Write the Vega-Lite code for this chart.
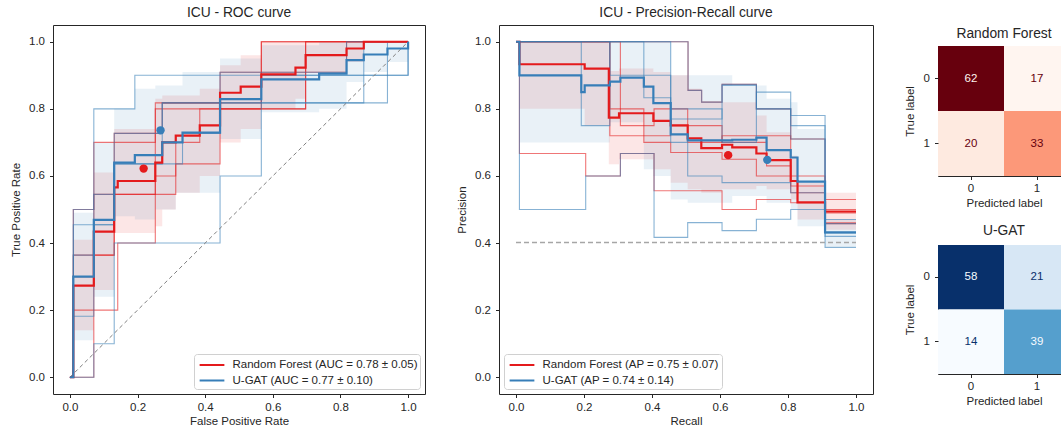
{
  "$schema": "https://vega.github.io/schema/vega-lite/v6.json",
  "padding": {"left": 9, "top": 5, "right": 0, "bottom": 0},
  "spacing": 29,
  "config": {
    "font": "Liberation Sans",
    "view": {"stroke": "#262626", "strokeWidth": 1},
    "axis": {"labelFontSize": 11.5, "titleFontSize": 11.5, "titleFontWeight": "normal", "labelColor": "#262626", "titleColor": "#262626", "tickColor": "#262626", "domain": false, "grid": false, "tickSize": 3.5, "labelPadding": 3.5, "titlePadding": 3},
    "axisY": {"labelPadding": 5, "titlePadding": 7.5},
    "title": {"fontSize": 13.8, "fontWeight": "normal", "color": "#262626", "offset": 5, "anchor": "middle", "frame": "group"},
    "legend": {"labelFontSize": 11.5, "labelColor": "#262626", "strokeColor": "#d0d0d0", "fillColor": "rgba(255,255,255,0.85)", "cornerRadius": 3, "padding": 2.5, "symbolType": "M-1.65,0H1.65", "symbolStrokeWidth": 2, "symbolSize": 225, "symbolOffset": 7, "labelLimit": 400, "rowPadding": 1.5, "labelOffset": 12, "offset": 5}
  },
  "datasets": {
    "rocMean": [
      {"model": "Random Forest", "x": 0, "y": 0}, {"model": "Random Forest", "x": 0.0101, "y": 0.273}, {"model": "Random Forest", "x": 0.0707, "y": 0.434}, {"model": "Random Forest", "x": 0.131, "y": 0.566}, {"model": "Random Forest", "x": 0.1414, "y": 0.585}, {"model": "Random Forest", "x": 0.2525, "y": 0.64}, {"model": "Random Forest", "x": 0.273, "y": 0.70}, {"model": "Random Forest", "x": 0.313, "y": 0.72}, {"model": "Random Forest", "x": 0.384, "y": 0.751}, {"model": "Random Forest", "x": 0.444, "y": 0.848}, {"model": "Random Forest", "x": 0.505, "y": 0.866}, {"model": "Random Forest", "x": 0.566, "y": 0.903}, {"model": "Random Forest", "x": 0.667, "y": 0.923}, {"model": "Random Forest", "x": 0.697, "y": 0.96}, {"model": "Random Forest", "x": 0.818, "y": 0.98}, {"model": "Random Forest", "x": 0.869, "y": 1.0}, {"model": "Random Forest", "x": 1.0, "y": 1.0},
      {"model": "U-GAT", "x": 0, "y": 0}, {"model": "U-GAT", "x": 0.0101, "y": 0.30}, {"model": "U-GAT", "x": 0.0707, "y": 0.469}, {"model": "U-GAT", "x": 0.131, "y": 0.64}, {"model": "U-GAT", "x": 0.192, "y": 0.662}, {"model": "U-GAT", "x": 0.273, "y": 0.70}, {"model": "U-GAT", "x": 0.333, "y": 0.729}, {"model": "U-GAT", "x": 0.444, "y": 0.829}, {"model": "U-GAT", "x": 0.566, "y": 0.888}, {"model": "U-GAT", "x": 0.737, "y": 0.905}, {"model": "U-GAT", "x": 0.818, "y": 0.945}, {"model": "U-GAT", "x": 0.869, "y": 0.962}, {"model": "U-GAT", "x": 0.939, "y": 0.98}, {"model": "U-GAT", "x": 1.0, "y": 1.0}
    ],
    "rocBand": [
      {"model": "Random Forest", "x": 0, "lo": 0, "hi": 0}, {"model": "Random Forest", "x": 0.0101, "lo": 0.14, "hi": 0.41}, {"model": "Random Forest", "x": 0.0707, "lo": 0.26, "hi": 0.61}, {"model": "Random Forest", "x": 0.131, "lo": 0.43, "hi": 0.74}, {"model": "Random Forest", "x": 0.2525, "lo": 0.45, "hi": 0.83}, {"model": "Random Forest", "x": 0.273, "lo": 0.5, "hi": 0.84}, {"model": "Random Forest", "x": 0.313, "lo": 0.55, "hi": 0.84}, {"model": "Random Forest", "x": 0.384, "lo": 0.6, "hi": 0.86}, {"model": "Random Forest", "x": 0.444, "lo": 0.7, "hi": 0.93}, {"model": "Random Forest", "x": 0.505, "lo": 0.74, "hi": 0.96}, {"model": "Random Forest", "x": 0.566, "lo": 0.8, "hi": 1.0}, {"model": "Random Forest", "x": 0.667, "lo": 0.83, "hi": 1.0}, {"model": "Random Forest", "x": 0.697, "lo": 0.91, "hi": 1.0}, {"model": "Random Forest", "x": 0.818, "lo": 0.94, "hi": 1.0}, {"model": "Random Forest", "x": 0.869, "lo": 1.0, "hi": 1.0}, {"model": "Random Forest", "x": 1.0, "lo": 1.0, "hi": 1.0},
      {"model": "U-GAT", "x": 0, "lo": 0, "hi": 0}, {"model": "U-GAT", "x": 0.0101, "lo": 0.11, "hi": 0.49}, {"model": "U-GAT", "x": 0.0707, "lo": 0.24, "hi": 0.70}, {"model": "U-GAT", "x": 0.131, "lo": 0.48, "hi": 0.80}, {"model": "U-GAT", "x": 0.192, "lo": 0.47, "hi": 0.86}, {"model": "U-GAT", "x": 0.2525, "lo": 0.5, "hi": 0.87}, {"model": "U-GAT", "x": 0.313, "lo": 0.55, "hi": 0.87}, {"model": "U-GAT", "x": 0.333, "lo": 0.55, "hi": 0.91}, {"model": "U-GAT", "x": 0.444, "lo": 0.71, "hi": 0.95}, {"model": "U-GAT", "x": 0.566, "lo": 0.79, "hi": 0.99}, {"model": "U-GAT", "x": 0.737, "lo": 0.8, "hi": 1.0}, {"model": "U-GAT", "x": 0.818, "lo": 0.88, "hi": 1.0}, {"model": "U-GAT", "x": 0.869, "lo": 0.91, "hi": 1.0}, {"model": "U-GAT", "x": 0.939, "lo": 0.94, "hi": 1.0}, {"model": "U-GAT", "x": 1.0, "lo": 1.0, "hi": 1.0}
    ],
    "rocFold": [
      {"model": "Random Forest", "fold": 1, "x": 0, "y": 0}, {"model": "Random Forest", "fold": 1, "x": 0.0101, "y": 0.5}, {"model": "Random Forest", "fold": 1, "x": 0.0707, "y": 0.545}, {"model": "Random Forest", "fold": 1, "x": 0.131, "y": 0.727}, {"model": "Random Forest", "fold": 1, "x": 0.273, "y": 0.818}, {"model": "Random Forest", "fold": 1, "x": 0.444, "y": 0.909}, {"model": "Random Forest", "fold": 1, "x": 0.818, "y": 1.0}, {"model": "Random Forest", "fold": 1, "x": 1.0, "y": 1.0},
      {"model": "Random Forest", "fold": 2, "x": 0, "y": 0}, {"model": "Random Forest", "fold": 2, "x": 0.0101, "y": 0.3}, {"model": "Random Forest", "fold": 2, "x": 0.0707, "y": 0.7}, {"model": "Random Forest", "fold": 2, "x": 0.2525, "y": 0.8}, {"model": "Random Forest", "fold": 2, "x": 0.566, "y": 1.0}, {"model": "Random Forest", "fold": 2, "x": 1.0, "y": 1.0},
      {"model": "Random Forest", "fold": 3, "x": 0, "y": 0}, {"model": "Random Forest", "fold": 3, "x": 0.0101, "y": 0.2}, {"model": "Random Forest", "fold": 3, "x": 0.1414, "y": 0.4}, {"model": "Random Forest", "fold": 3, "x": 0.2525, "y": 0.6}, {"model": "Random Forest", "fold": 3, "x": 0.313, "y": 0.7}, {"model": "Random Forest", "fold": 3, "x": 0.384, "y": 0.8}, {"model": "Random Forest", "fold": 3, "x": 0.697, "y": 1.0}, {"model": "Random Forest", "fold": 3, "x": 1.0, "y": 1.0},
      {"model": "Random Forest", "fold": 4, "x": 0, "y": 0}, {"model": "Random Forest", "fold": 4, "x": 0.0101, "y": 0.364}, {"model": "Random Forest", "fold": 4, "x": 0.131, "y": 0.545}, {"model": "Random Forest", "fold": 4, "x": 0.2525, "y": 0.818}, {"model": "Random Forest", "fold": 4, "x": 0.566, "y": 1.0}, {"model": "Random Forest", "fold": 4, "x": 1.0, "y": 1.0},
      {"model": "Random Forest", "fold": 5, "x": 0, "y": 0}, {"model": "Random Forest", "fold": 5, "x": 0.0707, "y": 0.364}, {"model": "Random Forest", "fold": 5, "x": 0.131, "y": 0.545}, {"model": "Random Forest", "fold": 5, "x": 0.313, "y": 0.636}, {"model": "Random Forest", "fold": 5, "x": 0.444, "y": 0.8}, {"model": "Random Forest", "fold": 5, "x": 0.697, "y": 1.0}, {"model": "Random Forest", "fold": 5, "x": 1.0, "y": 1.0},
      {"model": "U-GAT", "fold": 1, "x": 0, "y": 0}, {"model": "U-GAT", "fold": 1, "x": 0.0707, "y": 0.1}, {"model": "U-GAT", "fold": 1, "x": 0.131, "y": 0.4}, {"model": "U-GAT", "fold": 1, "x": 0.444, "y": 0.6}, {"model": "U-GAT", "fold": 1, "x": 0.566, "y": 0.9}, {"model": "U-GAT", "fold": 1, "x": 1.0, "y": 1.0},
      {"model": "U-GAT", "fold": 2, "x": 0, "y": 0}, {"model": "U-GAT", "fold": 2, "x": 0.0101, "y": 0.182}, {"model": "U-GAT", "fold": 2, "x": 0.0707, "y": 0.8}, {"model": "U-GAT", "fold": 2, "x": 0.192, "y": 0.9}, {"model": "U-GAT", "fold": 2, "x": 1.0, "y": 1.0},
      {"model": "U-GAT", "fold": 3, "x": 0, "y": 0}, {"model": "U-GAT", "fold": 3, "x": 0.0101, "y": 0.5}, {"model": "U-GAT", "fold": 3, "x": 0.0707, "y": 0.545}, {"model": "U-GAT", "fold": 3, "x": 0.131, "y": 0.727}, {"model": "U-GAT", "fold": 3, "x": 0.273, "y": 0.818}, {"model": "U-GAT", "fold": 3, "x": 0.444, "y": 0.909}, {"model": "U-GAT", "fold": 3, "x": 0.818, "y": 1.0}, {"model": "U-GAT", "fold": 3, "x": 1.0, "y": 1.0},
      {"model": "U-GAT", "fold": 4, "x": 0, "y": 0}, {"model": "U-GAT", "fold": 4, "x": 0.0101, "y": 0.4545}, {"model": "U-GAT", "fold": 4, "x": 0.131, "y": 0.636}, {"model": "U-GAT", "fold": 4, "x": 0.273, "y": 0.818}, {"model": "U-GAT", "fold": 4, "x": 0.869, "y": 1.0}, {"model": "U-GAT", "fold": 4, "x": 1.0, "y": 1.0},
      {"model": "U-GAT", "fold": 5, "x": 0, "y": 0}, {"model": "U-GAT", "fold": 5, "x": 0.0101, "y": 0.364}, {"model": "U-GAT", "fold": 5, "x": 0.0707, "y": 0.4545}, {"model": "U-GAT", "fold": 5, "x": 0.131, "y": 0.636}, {"model": "U-GAT", "fold": 5, "x": 0.333, "y": 0.727}, {"model": "U-GAT", "fold": 5, "x": 0.444, "y": 0.818}, {"model": "U-GAT", "fold": 5, "x": 0.939, "y": 1.0}, {"model": "U-GAT", "fold": 5, "x": 1.0, "y": 1.0}
    ],
    "rocPt": [{"model": "Random Forest", "x": 0.218, "y": 0.622}, {"model": "U-GAT", "x": 0.268, "y": 0.736}],
    "rocDiag": [{"x": 0, "y": 0}, {"x": 1, "y": 1}],
    "prMean": [
      {"model": "Random Forest", "x": 0, "y": 1.0}, {"model": "Random Forest", "x": 0.0101, "y": 0.933}, {"model": "Random Forest", "x": 0.202, "y": 0.92}, {"model": "Random Forest", "x": 0.273, "y": 0.774}, {"model": "Random Forest", "x": 0.303, "y": 0.787}, {"model": "Random Forest", "x": 0.404, "y": 0.764}, {"model": "Random Forest", "x": 0.455, "y": 0.751}, {"model": "Random Forest", "x": 0.505, "y": 0.712}, {"model": "Random Forest", "x": 0.545, "y": 0.683}, {"model": "Random Forest", "x": 0.606, "y": 0.693}, {"model": "Random Forest", "x": 0.636, "y": 0.685}, {"model": "Random Forest", "x": 0.707, "y": 0.667}, {"model": "Random Forest", "x": 0.737, "y": 0.647}, {"model": "Random Forest", "x": 0.808, "y": 0.585}, {"model": "Random Forest", "x": 0.828, "y": 0.521}, {"model": "Random Forest", "x": 0.909, "y": 0.494}, {"model": "Random Forest", "x": 1.0, "y": 0.494},
      {"model": "U-GAT", "x": 0, "y": 1.0}, {"model": "U-GAT", "x": 0.0101, "y": 0.90}, {"model": "U-GAT", "x": 0.192, "y": 0.85}, {"model": "U-GAT", "x": 0.202, "y": 0.87}, {"model": "U-GAT", "x": 0.276, "y": 0.881}, {"model": "U-GAT", "x": 0.307, "y": 0.893}, {"model": "U-GAT", "x": 0.376, "y": 0.866}, {"model": "U-GAT", "x": 0.404, "y": 0.817}, {"model": "U-GAT", "x": 0.455, "y": 0.724}, {"model": "U-GAT", "x": 0.505, "y": 0.706}, {"model": "U-GAT", "x": 0.636, "y": 0.708}, {"model": "U-GAT", "x": 0.707, "y": 0.714}, {"model": "U-GAT", "x": 0.737, "y": 0.677}, {"model": "U-GAT", "x": 0.808, "y": 0.655}, {"model": "U-GAT", "x": 0.828, "y": 0.583}, {"model": "U-GAT", "x": 0.909, "y": 0.432}, {"model": "U-GAT", "x": 1.0, "y": 0.432}
    ],
    "prBand": [
      {"model": "Random Forest", "x": 0, "lo": 1.0, "hi": 1.0}, {"model": "Random Forest", "x": 0.0101, "lo": 0.8, "hi": 1.0}, {"model": "Random Forest", "x": 0.202, "lo": 0.75, "hi": 1.0}, {"model": "Random Forest", "x": 0.273, "lo": 0.635, "hi": 0.913}, {"model": "Random Forest", "x": 0.303, "lo": 0.65, "hi": 0.92}, {"model": "Random Forest", "x": 0.404, "lo": 0.62, "hi": 0.91}, {"model": "Random Forest", "x": 0.455, "lo": 0.58, "hi": 0.9}, {"model": "Random Forest", "x": 0.505, "lo": 0.56, "hi": 0.86}, {"model": "Random Forest", "x": 0.545, "lo": 0.55, "hi": 0.82}, {"model": "Random Forest", "x": 0.606, "lo": 0.56, "hi": 0.82}, {"model": "Random Forest", "x": 0.707, "lo": 0.57, "hi": 0.78}, {"model": "Random Forest", "x": 0.737, "lo": 0.56, "hi": 0.73}, {"model": "Random Forest", "x": 0.808, "lo": 0.53, "hi": 0.66}, {"model": "Random Forest", "x": 0.828, "lo": 0.47, "hi": 0.58}, {"model": "Random Forest", "x": 0.909, "lo": 0.44, "hi": 0.55}, {"model": "Random Forest", "x": 1.0, "lo": 0.44, "hi": 0.55},
      {"model": "U-GAT", "x": 0, "lo": 1.0, "hi": 1.0}, {"model": "U-GAT", "x": 0.0101, "lo": 0.7, "hi": 1.0}, {"model": "U-GAT", "x": 0.276, "lo": 0.76, "hi": 1.0}, {"model": "U-GAT", "x": 0.376, "lo": 0.62, "hi": 1.0}, {"model": "U-GAT", "x": 0.404, "lo": 0.6, "hi": 1.0}, {"model": "U-GAT", "x": 0.455, "lo": 0.53, "hi": 0.9}, {"model": "U-GAT", "x": 0.505, "lo": 0.52, "hi": 0.9}, {"model": "U-GAT", "x": 0.636, "lo": 0.54, "hi": 0.87}, {"model": "U-GAT", "x": 0.737, "lo": 0.52, "hi": 0.83}, {"model": "U-GAT", "x": 0.808, "lo": 0.5, "hi": 0.82}, {"model": "U-GAT", "x": 0.828, "lo": 0.45, "hi": 0.74}, {"model": "U-GAT", "x": 0.909, "lo": 0.39, "hi": 0.47}, {"model": "U-GAT", "x": 1.0, "lo": 0.39, "hi": 0.47}
    ],
    "prFold": [
      {"model": "Random Forest", "fold": 1, "x": 0, "y": 1}, {"model": "Random Forest", "fold": 1, "x": 0.506, "y": 0.855}, {"model": "Random Forest", "fold": 1, "x": 0.546, "y": 0.82}, {"model": "Random Forest", "fold": 1, "x": 0.606, "y": 0.873}, {"model": "Random Forest", "fold": 1, "x": 0.707, "y": 0.8}, {"model": "Random Forest", "fold": 1, "x": 0.808, "y": 0.71}, {"model": "Random Forest", "fold": 1, "x": 0.909, "y": 0.458}, {"model": "Random Forest", "fold": 1, "x": 1.0, "y": 0.458},
      {"model": "Random Forest", "fold": 2, "x": 0, "y": 1}, {"model": "Random Forest", "fold": 2, "x": 0.0101, "y": 0.667}, {"model": "Random Forest", "fold": 2, "x": 0.205, "y": 0.6}, {"model": "Random Forest", "fold": 2, "x": 0.307, "y": 0.667}, {"model": "Random Forest", "fold": 2, "x": 0.406, "y": 0.556}, {"model": "Random Forest", "fold": 2, "x": 0.606, "y": 0.5}, {"model": "Random Forest", "fold": 2, "x": 0.707, "y": 0.53}, {"model": "Random Forest", "fold": 2, "x": 0.808, "y": 0.52}, {"model": "Random Forest", "fold": 2, "x": 0.909, "y": 0.46}, {"model": "Random Forest", "fold": 2, "x": 1.0, "y": 0.46},
      {"model": "Random Forest", "fold": 3, "x": 0, "y": 1}, {"model": "Random Forest", "fold": 3, "x": 0.276, "y": 0.8}, {"model": "Random Forest", "fold": 3, "x": 0.376, "y": 0.7}, {"model": "Random Forest", "fold": 3, "x": 0.455, "y": 0.67}, {"model": "Random Forest", "fold": 3, "x": 0.606, "y": 0.65}, {"model": "Random Forest", "fold": 3, "x": 0.707, "y": 0.6}, {"model": "Random Forest", "fold": 3, "x": 0.808, "y": 0.55}, {"model": "Random Forest", "fold": 3, "x": 0.909, "y": 0.53}, {"model": "Random Forest", "fold": 3, "x": 1.0, "y": 0.53},
      {"model": "Random Forest", "fold": 4, "x": 0, "y": 1}, {"model": "Random Forest", "fold": 4, "x": 0.307, "y": 0.75}, {"model": "Random Forest", "fold": 4, "x": 0.406, "y": 0.8}, {"model": "Random Forest", "fold": 4, "x": 0.505, "y": 0.7}, {"model": "Random Forest", "fold": 4, "x": 0.606, "y": 0.72}, {"model": "Random Forest", "fold": 4, "x": 0.808, "y": 0.6}, {"model": "Random Forest", "fold": 4, "x": 0.909, "y": 0.5}, {"model": "Random Forest", "fold": 4, "x": 1.0, "y": 0.5},
      {"model": "Random Forest", "fold": 5, "x": 0, "y": 1}, {"model": "Random Forest", "fold": 5, "x": 0.276, "y": 0.72}, {"model": "Random Forest", "fold": 5, "x": 0.455, "y": 0.75}, {"model": "Random Forest", "fold": 5, "x": 0.606, "y": 0.7}, {"model": "Random Forest", "fold": 5, "x": 0.737, "y": 0.63}, {"model": "Random Forest", "fold": 5, "x": 0.808, "y": 0.57}, {"model": "Random Forest", "fold": 5, "x": 0.909, "y": 0.49}, {"model": "Random Forest", "fold": 5, "x": 1.0, "y": 0.49},
      {"model": "U-GAT", "fold": 1, "x": 0, "y": 1}, {"model": "U-GAT", "fold": 1, "x": 0.0101, "y": 0.5}, {"model": "U-GAT", "fold": 1, "x": 0.205, "y": 0.6}, {"model": "U-GAT", "fold": 1, "x": 0.307, "y": 0.667}, {"model": "U-GAT", "fold": 1, "x": 0.406, "y": 0.417}, {"model": "U-GAT", "fold": 1, "x": 0.505, "y": 0.461}, {"model": "U-GAT", "fold": 1, "x": 0.606, "y": 0.437}, {"model": "U-GAT", "fold": 1, "x": 0.707, "y": 0.471}, {"model": "U-GAT", "fold": 1, "x": 0.808, "y": 0.5}, {"model": "U-GAT", "fold": 1, "x": 0.909, "y": 0.387}, {"model": "U-GAT", "fold": 1, "x": 1.0, "y": 0.387},
      {"model": "U-GAT", "fold": 2, "x": 0, "y": 1}, {"model": "U-GAT", "fold": 2, "x": 0.192, "y": 0.75}, {"model": "U-GAT", "fold": 2, "x": 0.276, "y": 1.0}, {"model": "U-GAT", "fold": 2, "x": 0.376, "y": 0.833}, {"model": "U-GAT", "fold": 2, "x": 0.455, "y": 0.77}, {"model": "U-GAT", "fold": 2, "x": 0.606, "y": 0.87}, {"model": "U-GAT", "fold": 2, "x": 0.707, "y": 0.8}, {"model": "U-GAT", "fold": 2, "x": 0.808, "y": 0.75}, {"model": "U-GAT", "fold": 2, "x": 0.909, "y": 0.42}, {"model": "U-GAT", "fold": 2, "x": 1.0, "y": 0.42},
      {"model": "U-GAT", "fold": 3, "x": 0, "y": 1}, {"model": "U-GAT", "fold": 3, "x": 0.506, "y": 0.855}, {"model": "U-GAT", "fold": 3, "x": 0.546, "y": 0.82}, {"model": "U-GAT", "fold": 3, "x": 0.606, "y": 0.873}, {"model": "U-GAT", "fold": 3, "x": 0.707, "y": 0.8}, {"model": "U-GAT", "fold": 3, "x": 0.808, "y": 0.71}, {"model": "U-GAT", "fold": 3, "x": 0.909, "y": 0.458}, {"model": "U-GAT", "fold": 3, "x": 1.0, "y": 0.458},
      {"model": "U-GAT", "fold": 4, "x": 0, "y": 1}, {"model": "U-GAT", "fold": 4, "x": 0.276, "y": 0.9}, {"model": "U-GAT", "fold": 4, "x": 0.455, "y": 0.7}, {"model": "U-GAT", "fold": 4, "x": 0.505, "y": 0.6}, {"model": "U-GAT", "fold": 4, "x": 0.606, "y": 0.58}, {"model": "U-GAT", "fold": 4, "x": 0.808, "y": 0.55}, {"model": "U-GAT", "fold": 4, "x": 0.909, "y": 0.43}, {"model": "U-GAT", "fold": 4, "x": 1.0, "y": 0.43},
      {"model": "U-GAT", "fold": 5, "x": 0, "y": 1}, {"model": "U-GAT", "fold": 5, "x": 0.455, "y": 0.8}, {"model": "U-GAT", "fold": 5, "x": 0.606, "y": 0.7}, {"model": "U-GAT", "fold": 5, "x": 0.707, "y": 0.85}, {"model": "U-GAT", "fold": 5, "x": 0.808, "y": 0.78}, {"model": "U-GAT", "fold": 5, "x": 0.909, "y": 0.47}, {"model": "U-GAT", "fold": 5, "x": 1.0, "y": 0.47}
    ],
    "prPt": [{"model": "Random Forest", "x": 0.624, "y": 0.662}, {"model": "U-GAT", "x": 0.739, "y": 0.648}],
    "prBase": [{"x": 0, "y": 0.4015}, {"x": 1, "y": 0.4015}],
    "cmRF": [{"pred": 0, "actual": 0, "n": 62}, {"pred": 1, "actual": 0, "n": 17}, {"pred": 0, "actual": 1, "n": 20}, {"pred": 1, "actual": 1, "n": 33}],
    "cmUG": [{"pred": 0, "actual": 0, "n": 58}, {"pred": 1, "actual": 0, "n": 21}, {"pred": 0, "actual": 1, "n": 14}, {"pred": 1, "actual": 1, "n": 39}]
  },
  "resolve": {"scale": {"color": "independent", "fill": "independent", "stroke": "independent"}, "legend": {"color": "independent", "fill": "independent", "stroke": "independent"}},
  "hconcat": [
    {
      "width": 372, "height": 369,
      "title": "ICU - ROC curve",
      "layer": [
        {"data": {"name": "rocBand"}, "mark": {"type": "area", "interpolate": "step-after", "fillOpacity": 0.11},
         "encoding": {
           "x": {"field": "x", "type": "quantitative", "scale": {"domain": [-0.05, 1.05], "nice": false, "zero": false}, "axis": {"title": "False Positive Rate", "values": [0, 0.2, 0.4, 0.6, 0.8, 1], "format": ".1f"}},
           "y": {"field": "lo", "type": "quantitative", "scale": {"domain": [-0.05, 1.05], "nice": false, "zero": false}, "axis": {"title": "True Positive Rate", "values": [0, 0.2, 0.4, 0.6, 0.8, 1], "format": ".1f"}},
           "y2": {"field": "hi"},
           "fill": {"field": "model", "type": "nominal", "scale": {"domain": ["U-GAT", "Random Forest"], "range": ["#377eb8", "#e41a1c"]}, "legend": null}
         }},
        {"data": {"name": "rocFold"}, "transform": [{"filter": "datum.model == 'Random Forest'"}], "mark": {"type": "line", "interpolate": "step-after", "strokeWidth": 1.1, "strokeOpacity": 0.6},
         "encoding": {"x": {"field": "x", "type": "quantitative"}, "y": {"field": "y", "type": "quantitative"}, "detail": {"field": "fold"},
           "stroke": {"field": "model", "type": "nominal", "scale": {"domain": ["U-GAT", "Random Forest"], "range": ["#377eb8", "#e41a1c"]}, "legend": null}}},
        {"data": {"name": "rocFold"}, "transform": [{"filter": "datum.model == 'U-GAT'"}], "mark": {"type": "line", "interpolate": "step-after", "strokeWidth": 1.1, "strokeOpacity": 0.6},
         "encoding": {"x": {"field": "x", "type": "quantitative"}, "y": {"field": "y", "type": "quantitative"}, "detail": {"field": "fold"},
           "stroke": {"field": "model", "type": "nominal", "scale": {"domain": ["U-GAT", "Random Forest"], "range": ["#377eb8", "#e41a1c"]}, "legend": null}}},
        {"data": {"name": "rocDiag"}, "mark": {"type": "line", "stroke": "#7f7f7f", "strokeWidth": 1, "strokeDash": [4, 3]},
         "encoding": {"x": {"field": "x", "type": "quantitative"}, "y": {"field": "y", "type": "quantitative"}}},
        {"data": {"name": "rocMean"}, "mark": {"type": "line", "interpolate": "step-after", "strokeWidth": 2.2},
         "encoding": {"x": {"field": "x", "type": "quantitative"}, "y": {"field": "y", "type": "quantitative"},
           "color": {"field": "model", "type": "nominal", "scale": {"domain": ["Random Forest", "U-GAT"], "range": ["#e41a1c", "#377eb8"]},
             "legend": {"title": null, "orient": "bottom-right", "symbolType": "M-1.65,0H1.65", "labelExpr": "datum.label == 'Random Forest' ? 'Random Forest (AUC = 0.78 ± 0.05)' : 'U-GAT (AUC = 0.77 ± 0.10)'"}}}},
        {"data": {"name": "rocPt"}, "mark": {"type": "circle", "size": 70, "opacity": 1},
         "encoding": {"x": {"field": "x", "type": "quantitative"}, "y": {"field": "y", "type": "quantitative"},
           "fill": {"field": "model", "type": "nominal", "scale": {"domain": ["U-GAT", "Random Forest"], "range": ["#377eb8", "#e41a1c"]}, "legend": null}}}
      ]
    },
    {
      "width": 374, "height": 369,
      "title": "ICU - Precision-Recall curve",
      "layer": [
        {"data": {"name": "prBand"}, "mark": {"type": "area", "interpolate": "step-after", "fillOpacity": 0.11},
         "encoding": {
           "x": {"field": "x", "type": "quantitative", "scale": {"domain": [-0.05, 1.05], "nice": false, "zero": false}, "axis": {"title": "Recall", "values": [0, 0.2, 0.4, 0.6, 0.8, 1], "format": ".1f"}},
           "y": {"field": "lo", "type": "quantitative", "scale": {"domain": [-0.05, 1.05], "nice": false, "zero": false}, "axis": {"title": "Precision", "values": [0, 0.2, 0.4, 0.6, 0.8, 1], "format": ".1f"}},
           "y2": {"field": "hi"},
           "fill": {"field": "model", "type": "nominal", "scale": {"domain": ["U-GAT", "Random Forest"], "range": ["#377eb8", "#e41a1c"]}, "legend": null}
         }},
        {"data": {"name": "prFold"}, "transform": [{"filter": "datum.model == 'Random Forest'"}], "mark": {"type": "line", "interpolate": "step-after", "strokeWidth": 1.1, "strokeOpacity": 0.6},
         "encoding": {"x": {"field": "x", "type": "quantitative"}, "y": {"field": "y", "type": "quantitative"}, "detail": {"field": "fold"},
           "stroke": {"field": "model", "type": "nominal", "scale": {"domain": ["U-GAT", "Random Forest"], "range": ["#377eb8", "#e41a1c"]}, "legend": null}}},
        {"data": {"name": "prFold"}, "transform": [{"filter": "datum.model == 'U-GAT'"}], "mark": {"type": "line", "interpolate": "step-after", "strokeWidth": 1.1, "strokeOpacity": 0.6},
         "encoding": {"x": {"field": "x", "type": "quantitative"}, "y": {"field": "y", "type": "quantitative"}, "detail": {"field": "fold"},
           "stroke": {"field": "model", "type": "nominal", "scale": {"domain": ["U-GAT", "Random Forest"], "range": ["#377eb8", "#e41a1c"]}, "legend": null}}},
        {"data": {"name": "prBase"}, "mark": {"type": "line", "stroke": "#a6a6a6", "strokeWidth": 1.5, "strokeDash": [5, 3]},
         "encoding": {"x": {"field": "x", "type": "quantitative"}, "y": {"field": "y", "type": "quantitative"}}},
        {"data": {"name": "prMean"}, "mark": {"type": "line", "interpolate": "step-after", "strokeWidth": 2.2},
         "encoding": {"x": {"field": "x", "type": "quantitative"}, "y": {"field": "y", "type": "quantitative"},
           "color": {"field": "model", "type": "nominal", "scale": {"domain": ["Random Forest", "U-GAT"], "range": ["#e41a1c", "#377eb8"]},
             "legend": {"title": null, "orient": "bottom-left", "symbolType": "M-1.65,0H1.65", "labelExpr": "datum.label == 'Random Forest' ? 'Random Forest (AP = 0.75 ± 0.07)' : 'U-GAT (AP = 0.74 ± 0.14)'"}}}},
        {"data": {"name": "prPt"}, "mark": {"type": "circle", "size": 70, "opacity": 1},
         "encoding": {"x": {"field": "x", "type": "quantitative"}, "y": {"field": "y", "type": "quantitative"},
           "fill": {"field": "model", "type": "nominal", "scale": {"domain": ["U-GAT", "Random Forest"], "range": ["#377eb8", "#e41a1c"]}, "legend": null}}}
      ]
    },
    {
      "spacing": 0,
      "resolve": {"scale": {"color": "independent", "fill": "independent"}, "legend": {"color": "independent", "fill": "independent"}},
      "vconcat": [
        {
          "width": 132, "height": 1,
          "view": {"stroke": null},
          "data": {"values": [{"s": 0}]},
          "mark": {"type": "rect", "opacity": 0},
          "encoding": {}
        },
        {
          "width": 132, "height": 130,
          "title": "Random Forest",
          "data": {"name": "cmRF"},
          "encoding": {
            "x": {"field": "pred", "type": "ordinal", "scale": {"paddingInner": 0, "paddingOuter": 0}, "axis": {"title": "Predicted label", "labelAngle": 0, "labelPadding": 2.5, "titlePadding": 4}},
            "y": {"field": "actual", "type": "ordinal", "scale": {"paddingInner": 0, "paddingOuter": 0}, "axis": {"title": "True label", "titlePadding": 8, "labelPadding": 5}}
          },
          "layer": [
            {"mark": {"type": "rect"}, "encoding": {"fill": {"field": "n", "type": "quantitative", "scale": {"domain": [17, 22.625, 28.25, 33.875, 39.5, 45.125, 50.75, 56.375, 62], "range": ["#fff5f0", "#fee0d2", "#fcbba1", "#fc9272", "#fb6a4a", "#ef3b2c", "#cb181d", "#a50f15", "#67000d"], "interpolate": "rgb", "zero": false, "nice": false}, "legend": null}}},
            {"mark": {"type": "text", "fontSize": 11.5}, "encoding": {"text": {"field": "n", "type": "quantitative"}, "color": {"condition": {"test": "datum.n > 39.5", "value": "#fff5f0"}, "value": "#67000d"}}}
          ]
        },
        {
          "width": 132, "height": 129,
          "title": {"text": [" ", "U-GAT"], "lineHeight": 13, "offset": 7},
          "data": {"name": "cmUG"},
          "encoding": {
            "x": {"field": "pred", "type": "ordinal", "scale": {"paddingInner": 0, "paddingOuter": 0}, "axis": {"title": "Predicted label", "labelAngle": 0, "labelPadding": 2.5, "titlePadding": 4}},
            "y": {"field": "actual", "type": "ordinal", "scale": {"paddingInner": 0, "paddingOuter": 0}, "axis": {"title": "True label", "titlePadding": 8, "labelPadding": 5}}
          },
          "layer": [
            {"mark": {"type": "rect"}, "encoding": {"fill": {"field": "n", "type": "quantitative", "scale": {"domain": [14, 19.5, 25, 30.5, 36, 41.5, 47, 52.5, 58], "range": ["#f7fbff", "#deebf7", "#c6dbef", "#9ecae1", "#6baed6", "#4292c6", "#2171b5", "#08519c", "#08306b"], "interpolate": "rgb", "zero": false, "nice": false}, "legend": null}}},
            {"mark": {"type": "text", "fontSize": 11.5}, "encoding": {"text": {"field": "n", "type": "quantitative"}, "color": {"condition": {"test": "datum.n > 36", "value": "#f7fbff"}, "value": "#08306b"}}}
          ]
        }
      ]
    }
  ]
}
